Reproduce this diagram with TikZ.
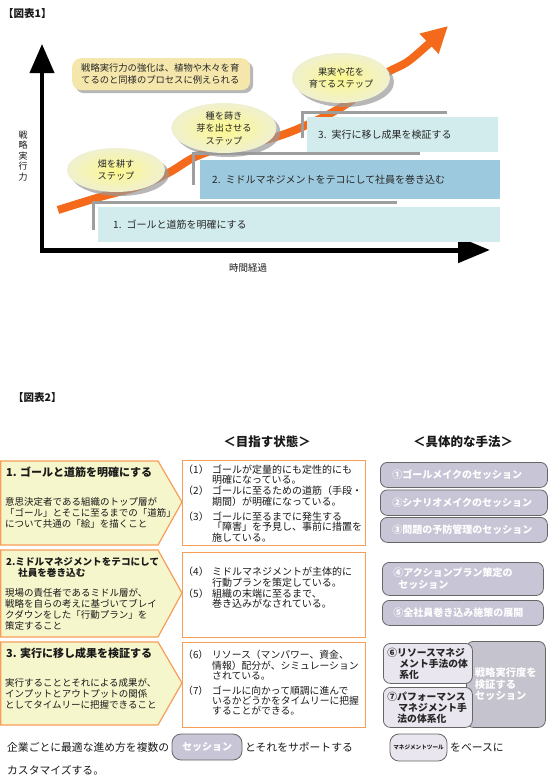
\documentclass[tikz,border=0pt]{standalone}
\usepackage{fontspec}
\setmainfont{Noto Sans CJK JP}
\usetikzlibrary{arrows.meta,shapes.geometric,shadows}

\definecolor{courbe}{RGB}{244,106,26}
\definecolor{cyanclair}{RGB}{210,236,238}
\definecolor{bleuetape}{RGB}{157,201,222}
\definecolor{grisligne}{RGB}{158,158,158}
\definecolor{bullecentre}{RGB}{252,248,140}
\definecolor{bullebord}{RGB}{240,240,208}
\definecolor{memofond}{RGB}{245,231,172}
\definecolor{etapefond}{RGB}{246,246,204}
\definecolor{etapebord}{RGB}{246,158,88}
\definecolor{lavande}{RGB}{200,198,214}
\definecolor{lavandeclair}{RGB}{234,230,239}
\definecolor{grisseance}{RGB}{196,195,206}

\newcommand{\numero}[1]{\makebox[29pt][l]{（#1）}}
\newcommand{\retrait}{\hspace*{29pt}}

\tikzset{
  texte/.style={inner sep=0pt, text=black!90},
  palier/.style={draw=grisligne, line width=3pt},
  stepbox/.style={anchor=north west, inner ysep=0pt, align=left, text=black!85, font=\fontsize{10}{12}\selectfont},
  bulle/.style={ellipse, inner sep=0pt, align=center, inner color=bullecentre, outer color=bullebord, text=black!85, font=\fontsize{9.2}{12.5}\selectfont, drop shadow={shadow xshift=4pt, shadow yshift=-4pt, fill=black!40, opacity=.7}},
  memo/.style={rounded corners=9pt, fill=memofond, anchor=north west, inner xsep=9pt, inner ysep=0pt, align=left, text=black!85, font=\fontsize{9.3}{12}\selectfont, drop shadow={shadow xshift=3pt, shadow yshift=-3pt, fill=black!40, opacity=.7}},
  etape/.style={draw=etapebord, line width=1.2pt, fill=etapefond},
  etat/.style={draw=etapebord, line width=1.2pt, fill=white, anchor=north west, minimum width=183pt, minimum height=85pt, inner sep=0pt},
  corps/.style={texte, anchor=north west, align=left, font=\fontsize{9.5}{11}\selectfont},
  titre/.style={texte, anchor=west, font=\bfseries\fontsize{11}{12}\selectfont},
  entete/.style={texte, font=\bfseries\fontsize{12.5}{14}\selectfont},
  seance/.style={draw=black!60, line width=.8pt, fill=lavande, rounded corners=7pt, anchor=north west, inner ysep=0pt, text=white, align=left, font=\bfseries\fontsize{10}{12}\selectfont},
  outil/.style={seance, fill=lavandeclair, text=black!85, font=\bfseries\fontsize{9.8}{11}\selectfont}
}

\begin{document}
\begin{tikzpicture}[x=1pt,y=-1pt]
  % Cadre
  \fill[white] (0,0) rectangle (550,780);
  \useasboundingbox (0,0) rectangle (550,780);

  % ---------- Figure 1 ----------
  \node[texte, anchor=west, font=\bfseries\fontsize{10.5}{12}\selectfont] (fig1) at (3,14) {【図表1】};

  % Axes
  \coordinate (origine) at (42,250);
  \coordinate (hautaxe) at (42,44);
  \coordinate (finaxe) at (490,250);
  \draw[line width=4pt, -{Triangle[length=29pt,width=24pt]}] ([yshift=-2.5pt]origine) -- (hautaxe);
  \draw[line width=5pt, -{Triangle[length=32pt,width=25pt]}] ([xshift=-2pt]origine) -- (finaxe);
  \node[texte, align=center, font=\fontsize{9}{10.5}\selectfont] (axey) at (23,156) {戦\\略\\実\\行\\力};
  \node[texte, font=\fontsize{9.5}{11}\selectfont] (axex) at (248,268) {時間経過};

  % Courbe de croissance
  \draw[courbe, line width=8pt, -{Triangle[length=26pt,width=26pt]}] plot[smooth, tension=.55] coordinates {(58,210) (100,197) (140,186) (170,172) (195,157) (230,145) (265,140) (300,128) (345,105) (385,74) (410,60) (448,26)};

  % Paliers
  \draw[palier] (93,230) -- (93,202) -- (397,202);
  \draw[palier] (193,185) -- (193,153) -- (420,153);
  \draw[palier] (302,138) -- (302,112) -- (447,112);
  \node[stepbox, fill=cyanclair, minimum width=402pt, minimum height=35pt, inner xsep=15pt, text width=372pt] (palier1) at (98,207) {1. ゴールと道筋を明確にする};
  \node[stepbox, fill=bleuetape, minimum width=300pt, minimum height=39pt, inner xsep=12pt, text width=276pt] (palier2) at (200,160) {2. ミドルマネジメントをテコにして社員を巻き込む};
  \node[stepbox, fill=cyanclair, minimum width=191pt, minimum height=35pt, inner xsep=11pt, text width=169pt] (palier3) at (307,117) {3. 実行に移し成果を検証する};

  % Bulles
  \node[bulle, minimum width=98pt, minimum height=44pt] (bulle1) at (116,170) {畑を耕す\\ステップ};
  \node[bulle, minimum width=105pt, minimum height=50pt] (bulle2) at (224,128) {種を蒔き\\芽を出させる\\ステップ};
  \node[bulle, minimum width=98pt, minimum height=50pt] (bulle3) at (341,78) {果実や花を\\育てるステップ};
  \node[memo, minimum width=178pt, minimum height=32pt, text width=160pt] (memo) at (72,58) {戦略実行力の強化は、植物や木々を育\\てるのと同様のプロセスに例えられる};

  % ---------- Figure 2 ----------
  \node[texte, anchor=west, font=\bfseries\fontsize{10.5}{12}\selectfont] (fig2) at (13,398) {【図表2】};
  \node[entete] (etat) at (267,442) {＜目指す状態＞};
  \node[entete] (methode) at (463,442) {＜具体的な手法＞};

  % Fleches des etapes
  \foreach \h/\b/\p in {461/545/502, 550/637/593, 642/725/683}
    \draw[etape] (0.7,\h) -- (158,\h) -- (182,\p) -- (158,\b) -- (0.7,\b) -- cycle;
  \node[titre] (titre1) at (6,472) {1. ゴールと道筋を明確にする};
  \node[corps] (corps1) at (5,497.4) {意思決定者である組織のトップ層が\\「ゴール」とそこに至るまでの「道筋」\\について共通の「絵」を描くこと};
  \node[corps, font=\bfseries\fontsize{9.6}{11}\selectfont] (titre2) at (6,557.4) {2.ミドルマネジメントをテコにして\\\hspace*{12pt}社員を巻き込む};
  \node[corps] (corps2) at (5,588.4) {現場の責任者であるミドル層が、\\戦略を自らの考えに基づいてブレイ\\クダウンをした「行動プラン」を\\策定すること};
  \node[titre] (titre3) at (6,653) {3. 実行に移し成果を検証する};
  \node[corps] (corps3) at (5,678.4) {実行することとそれによる成果が、\\インプットとアウトプットの関係\\としてタイムリーに把握できること};

  % Etats vises
  \node[etat] (but1) at (182,460) {};
  \node[etat] (but2) at (182,552) {};
  \node[etat] (but3) at (182,642) {};
  \node[corps, font=\fontsize{10}{10.7}\selectfont] (liste1) at (183,464.5) {\numero{1}ゴールが定量的にも定性的にも\\\retrait 明確になっている。\\\numero{2}ゴールに至るための道筋（手段・\\\retrait 期間）が明確になっている。\\[4pt]\numero{3}ゴールに至るまでに発生する\\\retrait 「障害」を予見し、事前に措置を\\\retrait 施している。};
  \node[corps, font=\fontsize{10}{10.7}\selectfont] (liste2) at (183,567) {\numero{4}ミドルマネジメントが主体的に\\\retrait 行動プランを策定している。\\\numero{5}組織の末端に至るまで、\\\retrait 巻き込みがなされている。};
  \node[corps, font=\fontsize{9.8}{10.2}\selectfont] (liste3) at (183,650.3) {\numero{6}リソース（マンパワー、資金、\\\retrait 情報）配分が、シミュレーション\\\retrait されている。\\[4.6pt]\numero{7}ゴールに向かって順調に進んで\\\retrait いるかどうかをタイムリーに把握\\\retrait することができる。};

  % Seances
  \node[seance, minimum width=167pt, minimum height=25pt, inner xsep=12pt, text width=143pt] (s1) at (380,462) {①ゴールメイクのセッション};
  \node[seance, minimum width=167pt, minimum height=25.5pt, inner xsep=12pt, text width=143pt] (s2) at (380,489.5) {②シナリオメイクのセッション};
  \node[seance, minimum width=167pt, minimum height=25pt, inner xsep=12pt, text width=143pt] (s3) at (380,517) {③問題の予防管理のセッション};
  \node[seance, minimum width=161pt, minimum height=33pt, inner xsep=11pt, text width=139pt] (s4) at (382,562) {④アクションプラン策定の\\\hspace*{5pt}セッション};
  \node[seance, minimum width=161pt, minimum height=25pt, inner xsep=11pt, text width=139pt] (s5) at (382,600) {⑤全社員巻き込み施策の展開};
  \node[seance, fill=grisseance, minimum width=79pt, minimum height=86pt, inner xsep=8.5pt, text width=62pt, font=\bfseries\fontsize{10.3}{11.5}\selectfont] (verif) at (466,641) {戦略実行度を\\検証する\\セッション};
  \node[outil, minimum width=89pt, minimum height=40pt, inner xsep=4pt, text width=81pt] (outil6) at (383,643) {⑥リソースマネジ\\\hspace*{12pt}メント手法の体\\\hspace*{12pt}系化};
  \node[outil, minimum width=89pt, minimum height=40pt, inner xsep=4pt, text width=81pt] (outil7) at (383,687) {⑦パフォーマンス\\\hspace*{11pt}マネジメント手\\\hspace*{10pt}法の体系化};

  % Conclusion
  \node[texte, anchor=west, font=\fontsize{10.8}{12}\selectfont] (phrase1) at (7,747) {企業ごとに最適な進め方を複数の};
  \node[seance, anchor=center, minimum width=70pt, minimum height=26pt, rounded corners=9pt] (sess) at (207,747) {セッション};
  \node[texte, anchor=west, font=\fontsize{10.8}{12}\selectfont] (phrase2) at (245,747) {とそれをサポートする};
  \node[seance, anchor=center, fill=lavandeclair, text=black!85, minimum width=57pt, minimum height=27pt, rounded corners=9pt, font=\bfseries\fontsize{5.6}{7}\selectfont] (outil) at (418.5,747.5) {マネジメントツール};
  \node[texte, anchor=west, font=\fontsize{10.8}{12}\selectfont] (phrase3) at (450,747) {をベースに};
  \node[texte, anchor=west, font=\fontsize{10.8}{12}\selectfont] (phrase4) at (7,770) {カスタマイズする。};
\end{tikzpicture}
\end{document}
